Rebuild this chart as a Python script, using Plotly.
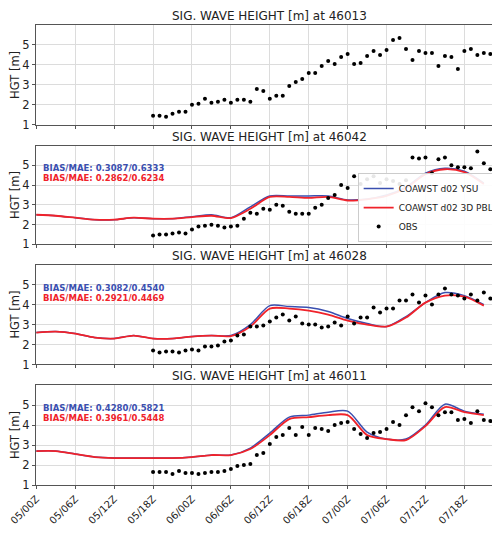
import plotly.graph_objects as go

stations = ["46013", "46042", "46028", "46011"]
tick_vals = [0, 6, 12, 18, 24, 30, 36, 42, 48, 54, 60, 66]
tick_text = ["05/00Z", "05/06Z", "05/12Z", "05/18Z", "06/00Z", "06/06Z", "06/12Z", "06/18Z", "07/00Z", "07/06Z", "07/12Z", "07/18Z"]
obs_hours = list(range(18, 72))
model_hours = list(range(0, 70, 3))

obs = [
    [1.45,1.45,1.4,1.55,1.65,1.65,2.0,2.05,2.3,2.1,2.15,2.25,2.1,2.25,2.25,2.15,2.8,2.7,2.3,2.45,2.45,2.95,3.15,3.3,3.6,3.6,3.95,4.2,4.05,4.4,4.55,4.05,4.1,4.45,4.7,4.5,4.75,5.25,5.35,4.8,4.25,4.7,4.6,4.6,3.95,4.45,4.4,3.8,4.7,4.8,4.5,4.6,4.55,4.6],
    [1.45,1.5,1.5,1.55,1.6,1.55,1.75,1.9,1.95,2.0,1.95,1.85,1.9,1.95,2.3,2.6,2.55,2.8,2.75,3.0,2.95,2.65,2.55,2.55,2.55,2.85,3.0,3.35,3.5,4.0,3.85,4.45,4.05,4.3,4.45,4.1,4.3,4.2,4.05,4.25,5.4,5.35,5.4,4.6,5.3,5.4,5.0,4.9,4.9,4.85,5.7,5.1,4.8,4.7],
    [1.7,1.6,1.65,1.65,1.6,1.7,1.75,1.7,1.9,1.9,1.95,2.15,2.2,2.45,2.5,2.9,2.9,2.95,3.15,3.35,3.5,3.2,3.4,3.05,3.0,3.0,2.85,2.9,3.1,2.95,3.4,3.05,3.35,3.35,3.85,3.6,3.8,3.8,4.2,4.2,4.5,4.1,4.45,4.0,4.5,4.8,4.5,4.45,4.3,4.5,4.2,4.6,4.3,4.55],
    [1.65,1.65,1.65,1.55,1.7,1.6,1.6,1.55,1.6,1.65,1.65,1.7,1.8,1.95,2.0,2.05,2.5,2.6,3.05,3.4,3.5,3.85,3.5,3.9,3.5,3.85,3.8,3.7,4.0,4.1,4.15,3.8,3.55,3.35,3.6,3.65,3.8,4.15,4.0,4.5,4.9,4.7,5.1,4.9,4.5,4.65,4.65,4.25,4.3,4.1,4.7,4.25,4.2,4.25],
]
ysu = [
    None,
    [2.5,2.45,2.35,2.25,2.25,2.35,2.3,2.3,2.4,2.5,2.35,2.9,3.45,3.45,3.45,3.45,3.25,3.3,3.5,3.9,4.6,4.85,4.7,4.1],
    [2.6,2.65,2.55,2.35,2.3,2.45,2.3,2.3,2.4,2.45,2.45,3.0,3.95,3.9,3.85,3.65,3.3,3.05,2.9,3.4,4.1,4.6,4.45,4.0],
    [2.7,2.7,2.55,2.4,2.35,2.35,2.35,2.35,2.4,2.5,2.5,2.85,3.6,4.4,4.5,4.65,4.7,3.65,3.3,3.3,4.0,5.05,4.7,4.55],
]
pbl = [
    None,
    [2.5,2.45,2.35,2.25,2.25,2.35,2.3,2.3,2.38,2.45,2.33,2.8,3.4,3.4,3.35,3.4,3.22,3.28,3.45,3.85,4.55,4.8,4.65,4.05],
    [2.6,2.65,2.55,2.35,2.3,2.45,2.3,2.3,2.4,2.45,2.42,2.9,3.8,3.8,3.7,3.5,3.2,3.0,2.9,3.35,4.1,4.45,4.4,3.95],
    [2.7,2.7,2.55,2.4,2.35,2.35,2.35,2.35,2.4,2.5,2.5,2.8,3.5,4.3,4.4,4.5,4.5,3.5,3.3,3.25,3.95,4.9,4.65,4.5],
]
stats_ysu = [None, "BIAS/MAE: 0.3087/0.6333", "BIAS/MAE: 0.3082/0.4540", "BIAS/MAE: 0.4280/0.5821"]
stats_pbl = [None, "BIAS/MAE: 0.2862/0.6234", "BIAS/MAE: 0.2921/0.4469", "BIAS/MAE: 0.3961/0.5448"]

BLUE = "#3a4fb0"
RED = "#f0222a"
fig = go.Figure()
domains = [[0.783, 1.0], [0.523, 0.738], [0.262, 0.479], [0.0, 0.217]]
font = dict(family="DejaVu Sans", size=11.5, color="#222")
for i in range(4):
    xa = "x" if i == 0 else f"x{i+1}"
    ya = "y" if i == 0 else f"y{i+1}"
    if ysu[i] is not None:
        fig.add_trace(go.Scatter(x=model_hours, y=ysu[i], mode="lines", line=dict(color=BLUE, width=1.5, shape="spline", smoothing=0.8),
                                 name="COAWST d02 YSU", showlegend=(i == 1), xaxis=xa, yaxis=ya))
        fig.add_trace(go.Scatter(x=model_hours, y=pbl[i], mode="lines", line=dict(color=RED, width=1.8, shape="spline", smoothing=0.8),
                                 name="COAWST d02 3D PBL", showlegend=(i == 1), xaxis=xa, yaxis=ya))
    fig.add_trace(go.Scatter(x=obs_hours, y=obs[i], mode="markers", marker=dict(color="black", size=4),
                             name="OBS", showlegend=(i == 1), xaxis=xa, yaxis=ya))
    axx = dict(domain=[0, 1], range=[-0.05, 71.8], tickvals=tick_vals, ticktext=tick_text,
               showticklabels=(i == 3), tickangle=-45, showgrid=True, gridcolor="#dcdcdc",
               showline=True, mirror=True, linecolor="#555", linewidth=1, zeroline=False,
               ticks="outside", ticklen=3, tickcolor="#555", anchor=ya, automargin=False,
               tickfont=dict(family="DejaVu Sans", size=10, color="#222"))
    if i > 0:
        axx["matches"] = "x"
    axy = dict(domain=domains[i], range=[1, 6], tickvals=[1, 2, 3, 4, 5], showgrid=True, gridcolor="#dcdcdc",
               showline=True, mirror=True, linecolor="#555", linewidth=1, zeroline=False,
               ticks="outside", ticklen=3, tickcolor="#555", tickfont=font, anchor=xa, automargin=False,
               title=dict(text="HGT [m]", font=font, standoff=2))
    fig.update_layout(**{("xaxis" if i == 0 else f"xaxis{i+1}"): axx,
                         ("yaxis" if i == 0 else f"yaxis{i+1}"): axy})
    fig.add_annotation(text=f"SIG. WAVE HEIGHT [m] at {stations[i]}", xref="paper", yref="paper",
                       x=0.5, y=domains[i][1], yanchor="bottom", xanchor="center", showarrow=False,
                       font=dict(family="DejaVu Sans", size=12, color="#222"))
    if stats_ysu[i]:
        fig.add_annotation(text=f"<b>{stats_ysu[i]}</b>", xref=f"{xa} domain", yref=f"{ya} domain",
                           x=0.01, y=0.77, xanchor="left", yanchor="middle", showarrow=False,
                           font=dict(family="DejaVu Sans", size=8.5, color=BLUE))
        fig.add_annotation(text=f"<b>{stats_pbl[i]}</b>", xref=f"{xa} domain", yref=f"{ya} domain",
                           x=0.01, y=0.67, xanchor="left", yanchor="middle", showarrow=False,
                           font=dict(family="DejaVu Sans", size=8.5, color=RED))

fig.update_layout(width=500, height=533, margin=dict(l=28, r=6, t=17, b=56),
                  plot_bgcolor="white", paper_bgcolor="white",
                  legend=dict(x=0.995, y=domains[1][0] + 0.005, xanchor="right", yanchor="bottom",
                              bgcolor="rgba(255,255,255,0.9)", bordercolor="#ccc", borderwidth=1,
                              font=dict(family="DejaVu Sans", size=9, color="#222"),
                              itemwidth=30, tracegroupgap=0))
fig.write_html("out.html")
